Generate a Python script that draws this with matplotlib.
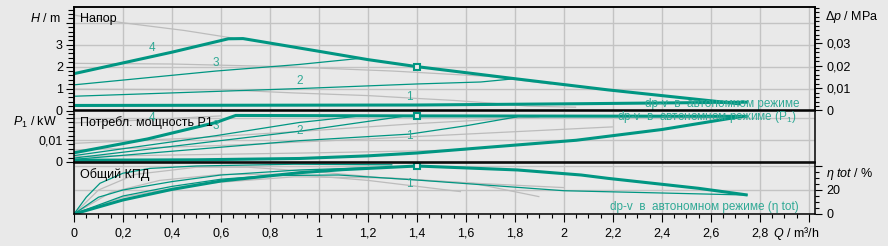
import matplotlib

matplotlib.use("Agg")
import matplotlib.pyplot as plt
from matplotlib.ticker import MultipleLocator

plt.rcParams["font.family"] = ["Liberation Sans", "DejaVu Sans"]
plt.rcParams["mathtext.fontset"] = "custom"
plt.rcParams["mathtext.rm"] = "Liberation Sans"
plt.rcParams["mathtext.it"] = "Liberation Sans:italic"

TEAL = "#009682"
TEAL_TEXT = "#2fa995"
GREY = "#bcbcbc"
GRID = "#c3c3c3"
BG = "#e9e9e9"

# x axis
X_TICKS = [0, 0.2, 0.4, 0.6, 0.8, 1.0, 1.2, 1.4, 1.6, 1.8, 2.0, 2.2, 2.4, 2.6, 2.8, 3.0]
X_LABELS = ["0", "0,2", "0,4", "0,6", "0,8", "1", "1,2", "1,4", "1,6", "1,8", "2",
            "2,2", "2,4", "2,6", "2,8", ""]

# head H / m
H4_Q = [0, 0.4, 0.63, 0.69, 0.84, 1.0, 1.2, 1.4, 1.8, 2.18, 2.72]
H4 = [1.68, 2.66, 3.27, 3.28, 3.0, 2.7, 2.32, 2.0, 1.45, 0.94, 0.30]
H3_Q = [0, 0.58, 0.92, 1.17]
H3 = [1.17, 1.80, 2.10, 2.38]
H2_Q = [0, 0.92, 1.4, 1.66, 1.8]
H2 = [0.65, 1.0, 1.21, 1.30, 1.45]
HDP_Q = [0, 1.4, 2.07, 2.75]
HDP = [0.23, 0.25, 0.31, 0.38]
GH1_Q = [0, 0.2, 0.45, 0.65]
GH1 = [4.35, 4.0, 3.65, 3.3]
GH2_Q = [0, 0.4, 0.85, 1.3, 1.7, 1.95]
GH2 = [2.15, 2.12, 2.0, 1.8, 1.55, 1.2]
GH3_Q = [0, 0.6, 0.9, 1.2, 1.4, 1.55, 1.7, 1.85, 2.05]
GH3 = [0.97, 0.95, 0.8, 0.68, 0.55, 0.46, 0.34, 0.2, 0.15]

# power input P1 / kW
P4_Q = [0, 0.3, 0.58, 0.66, 1.4, 2.75]
P4 = [0.0042, 0.0105, 0.0180, 0.0212, 0.0210, 0.0208]
P3_Q = [0, 0.58, 0.92, 1.17]
P3 = [0.0029, 0.0120, 0.0180, 0.0210]
P2_Q = [0, 0.92, 1.35]
P2 = [0.0018, 0.0140, 0.0209]
P1_Q = [0, 0.92, 1.37, 1.6, 1.81]
P1 = [0.0012, 0.0097, 0.0127, 0.0165, 0.0206]
PDP_Q = [0, 0.5, 0.92, 1.2, 1.4, 1.7, 2.05, 2.4, 2.73]
PDP = [0.0008, 0.0010, 0.0016, 0.0028, 0.0041, 0.0068, 0.0099, 0.0148, 0.0208]
GP1_Q = [0, 0.3, 0.6]
GP1 = [0.0178, 0.0192, 0.0210]
GP2_Q = [0, 0.5, 1.0, 1.4, 1.9]
GP2 = [0.0085, 0.0110, 0.0145, 0.0175, 0.0205]
GP3_Q = [0, 0.6, 1.2, 1.8, 2.2]
GP3 = [0.0055, 0.0075, 0.0105, 0.0138, 0.0160]
GP4_Q = [0, 1.0, 1.6]
GP4 = [0.0025, 0.0042, 0.0055]

# total efficiency / %
E4_Q = [0, 0.2, 0.4, 0.6, 0.92, 1.1, 1.4, 1.81, 2.07, 2.18, 2.55, 2.75]
E4 = [0, 11.7, 20.5, 27.5, 34.4, 37, 40, 36.7, 32.5, 29.7, 21.4, 15.8]
ET1_Q = [0, 0.05, 0.106, 0.2, 0.31, 0.5, 0.9, 1.3]
ET1 = [0, 14, 25.6, 34, 38, 40, 41.5, 41]
ET2_Q = [0, 0.1, 0.2, 0.4, 0.6, 0.92, 1.2]
ET2 = [0, 14, 20, 27, 32.5, 36.7, 38.5]
ET3_Q = [0, 0.2, 0.4, 0.6, 0.8, 1.08, 1.4, 2.0, 2.4, 2.75]
ET3 = [0, 15, 23, 29, 32, 32.5, 28.3, 19.4, 17.5, 15.8]
GE1_Q = [0, 0.1, 0.25, 0.5, 0.71, 1.0, 1.27, 1.63, 1.9]
GE1 = [0, 20, 33, 39, 39, 35, 30, 25.6, 14.4]
GE2_Q = [0, 0.15, 0.35, 0.6, 0.9, 1.2, 1.58]
GE2 = [0, 18, 28, 33, 33, 28, 18.6]
GE3_Q = [0, 0.2, 0.5, 0.9, 1.3, 1.6, 2.0]
GE3 = [0, 14, 25, 31, 30, 26, 22]

# duty point marker
DUTY_Q = 1.4
DUTY_H = 2.0
DUTY_P = 0.0209
DUTY_E = 40

XMAX = 3.025
H_MAX = 4.72
P_MAX = 0.023
E_MAX = 42.5
RHO_G = 0.00981  # MPa per m


def px(x, y):
    return x / 888, 1 - y / 246


def style(ax, ymax):
    ax.set_facecolor(BG)
    ax.set_xlim(0, XMAX)
    ax.set_ylim(0, ymax)
    ax.xaxis.set_major_locator(MultipleLocator(0.2))
    ax.grid(True, color=GRID, linewidth=1.0)
    ax.set_axisbelow(True)
    for sp in ax.spines.values():
        sp.set_linewidth(1.1)
    ax.tick_params(axis="x", which="both", bottom=False, labelbottom=False)
    ax.tick_params(axis="y", which="both", left=False, labelleft=False)


def curve(ax, q, v, color=TEAL, lw=0.9):
    ax.plot(q, v, color=color, linewidth=lw, solid_capstyle="butt")


fig = plt.figure(figsize=(8.88, 2.46), dpi=100)
fig.patch.set_facecolor(BG)

left, width = 74 / 888, (815 - 74) / 888
ax_h = fig.add_axes([left, 1 - 110.5 / 246, width, 103.5 / 246])
ax_p = fig.add_axes([left, 1 - 162 / 246, width, 50.5 / 246])
ax_e = fig.add_axes([left, 1 - 214 / 246, width, 51 / 246])

# --- head panel
style(ax_h, H_MAX)
ax_h.yaxis.set_major_locator(MultipleLocator(1))
for q, v in [(GH1_Q, GH1), (GH2_Q, GH2), (GH3_Q, GH3)]:
    curve(ax_h, q, v, GREY)
curve(ax_h, H2_Q, H2)
curve(ax_h, H3_Q, H3)
curve(ax_h, HDP_Q, HDP, lw=2.2)
curve(ax_h, H4_Q, H4, lw=2.2)
ax_h.plot([DUTY_Q], [DUTY_H], "s", ms=5, mfc=BG, mec=TEAL, mew=1.5)
ax_h.tick_params(axis="y", which="both", left=True, labelleft=True, direction="out",
                 labelsize=9, width=0.8, pad=2)
ax_h.tick_params(axis="y", which="major", length=6)
ax_h.tick_params(axis="y", which="minor", length=4)
ax_h.yaxis.set_minor_locator(MultipleLocator(0.2))
ax_h.set_yticks([0, 1, 2, 3, 4])
ax_h.set_yticklabels(["0", "1", "2", "3", ""])

ax_dp = ax_h.twinx()
ax_dp.set_ylim(0, H_MAX * RHO_G)
ax_dp.set_yticks([0, 0.01, 0.02, 0.03])
ax_dp.set_yticklabels(["0", "0,01", "0,02", "0,03"])
ax_dp.yaxis.set_minor_locator(MultipleLocator(0.002))
ax_dp.tick_params(axis="y", which="both", direction="out", labelsize=9, width=0.8, pad=3)
ax_dp.tick_params(axis="y", which="major", length=5)
ax_dp.tick_params(axis="y", which="minor", length=3)
for sp in ax_dp.spines.values():
    sp.set_linewidth(1.1)

# --- power panel
style(ax_p, P_MAX)
ax_p.yaxis.set_major_locator(MultipleLocator(0.01))
for q, v in [(GP1_Q, GP1), (GP2_Q, GP2), (GP3_Q, GP3), (GP4_Q, GP4)]:
    curve(ax_p, q, v, GREY)
curve(ax_p, P1_Q, P1)
curve(ax_p, P2_Q, P2)
curve(ax_p, P3_Q, P3)
curve(ax_p, PDP_Q, PDP, lw=2.2)
curve(ax_p, P4_Q, P4, lw=2.2)
ax_p.plot([DUTY_Q], [DUTY_P], "s", ms=5, mfc=BG, mec=TEAL, mew=1.5)
ax_p.tick_params(axis="y", which="both", left=True, labelleft=True, direction="out",
                 labelsize=9, width=0.8, pad=2)
ax_p.tick_params(axis="y", which="major", length=6)
ax_p.tick_params(axis="y", which="minor", length=4)
ax_p.yaxis.set_minor_locator(MultipleLocator(0.002))
ax_p.set_yticks([0, 0.01, 0.02])
ax_p.set_yticklabels(["0", "0,01", ""])

# --- efficiency panel
style(ax_e, E_MAX)
ax_e.yaxis.set_major_locator(MultipleLocator(20))
for q, v in [(GE1_Q, GE1), (GE2_Q, GE2), (GE3_Q, GE3)]:
    curve(ax_e, q, v, GREY)
curve(ax_e, ET1_Q, ET1)
curve(ax_e, ET2_Q, ET2)
curve(ax_e, ET3_Q, ET3)
curve(ax_e, E4_Q, E4, lw=2.2)
ax_e.plot([DUTY_Q], [DUTY_E], "s", ms=5, mfc=BG, mec=TEAL, mew=1.5)
ax_e.set_xticks(X_TICKS)
ax_e.set_xticklabels(X_LABELS)
ax_e.xaxis.set_minor_locator(MultipleLocator(0.05))
ax_e.tick_params(axis="x", which="both", bottom=True, labelbottom=True, direction="out",
                 labelsize=9, width=0.8, pad=4)
ax_e.tick_params(axis="x", which="major", length=6)
ax_e.tick_params(axis="x", which="minor", length=3)
ax_e.tick_params(axis="y", which="both", right=True, labelright=True, direction="out",
                 labelsize=9, width=0.8, pad=3)
ax_e.tick_params(axis="y", which="major", length=5)
ax_e.tick_params(axis="y", which="minor", length=3)
ax_e.yaxis.set_minor_locator(MultipleLocator(5))
ax_e.set_yticks([0, 20, 40])
ax_e.set_yticklabels(["0", "20", ""])

# panel titles
ax_h.text(0.025, 4.17, "Напор", fontsize=9, va="center")
ax_p.text(0.025, 0.0182, "Потребл. мощность P1", fontsize=9, va="center")
ax_e.text(0.025, 32.5, "Общий КПД", fontsize=9, va="center")

# curve numbers
for ax, pos in [
    (ax_h, [("4", 0.32, 2.85), ("3", 0.58, 2.15), ("2", 0.92, 1.33), ("1", 1.37, 0.6)]),
    (ax_p, [("4", 0.32, 0.0200), ("3", 0.58, 0.0165), ("2", 0.92, 0.0140), ("1", 1.37, 0.0118)]),
    (ax_e, [("1", 1.37, 25)]),
]:
    for s, x, y in pos:
        ax.text(x, y, s, color=TEAL_TEXT, fontsize=8.5, ha="center", va="center")

# mode captions
ax_h.text(2.96, 0.30, "dp-v  в  автономном режиме", color=TEAL_TEXT, fontsize=8.5,
          ha="right", va="center")
ax_p.text(2.95, 0.0203, "dp-v  в  автономном режиме (P$_1$)", color=TEAL_TEXT, fontsize=8.5,
          ha="right", va="center")
ax_e.text(2.96, 5.8, "dp-v  в  автономном режиме (η tot)", color=TEAL_TEXT, fontsize=8.5,
          ha="right", va="center")

# axis names
fig.text(*px(61, 18), "$H$ / m", fontsize=9, ha="right", va="center")
fig.text(*px(57, 122), "$P_1$ / kW", fontsize=9, ha="right", va="center")
fig.text(*px(825, 17), r"$\Delta p$ / MPa", fontsize=9, ha="left", va="center")
fig.text(*px(826, 174), r"$\eta\ tot$ / %", fontsize=9, ha="left", va="center")
fig.text(*px(773, 233), "$Q$ / m³/h", fontsize=9, ha="left", va="center")

fig.savefig("out.png", dpi=100, facecolor=BG)
